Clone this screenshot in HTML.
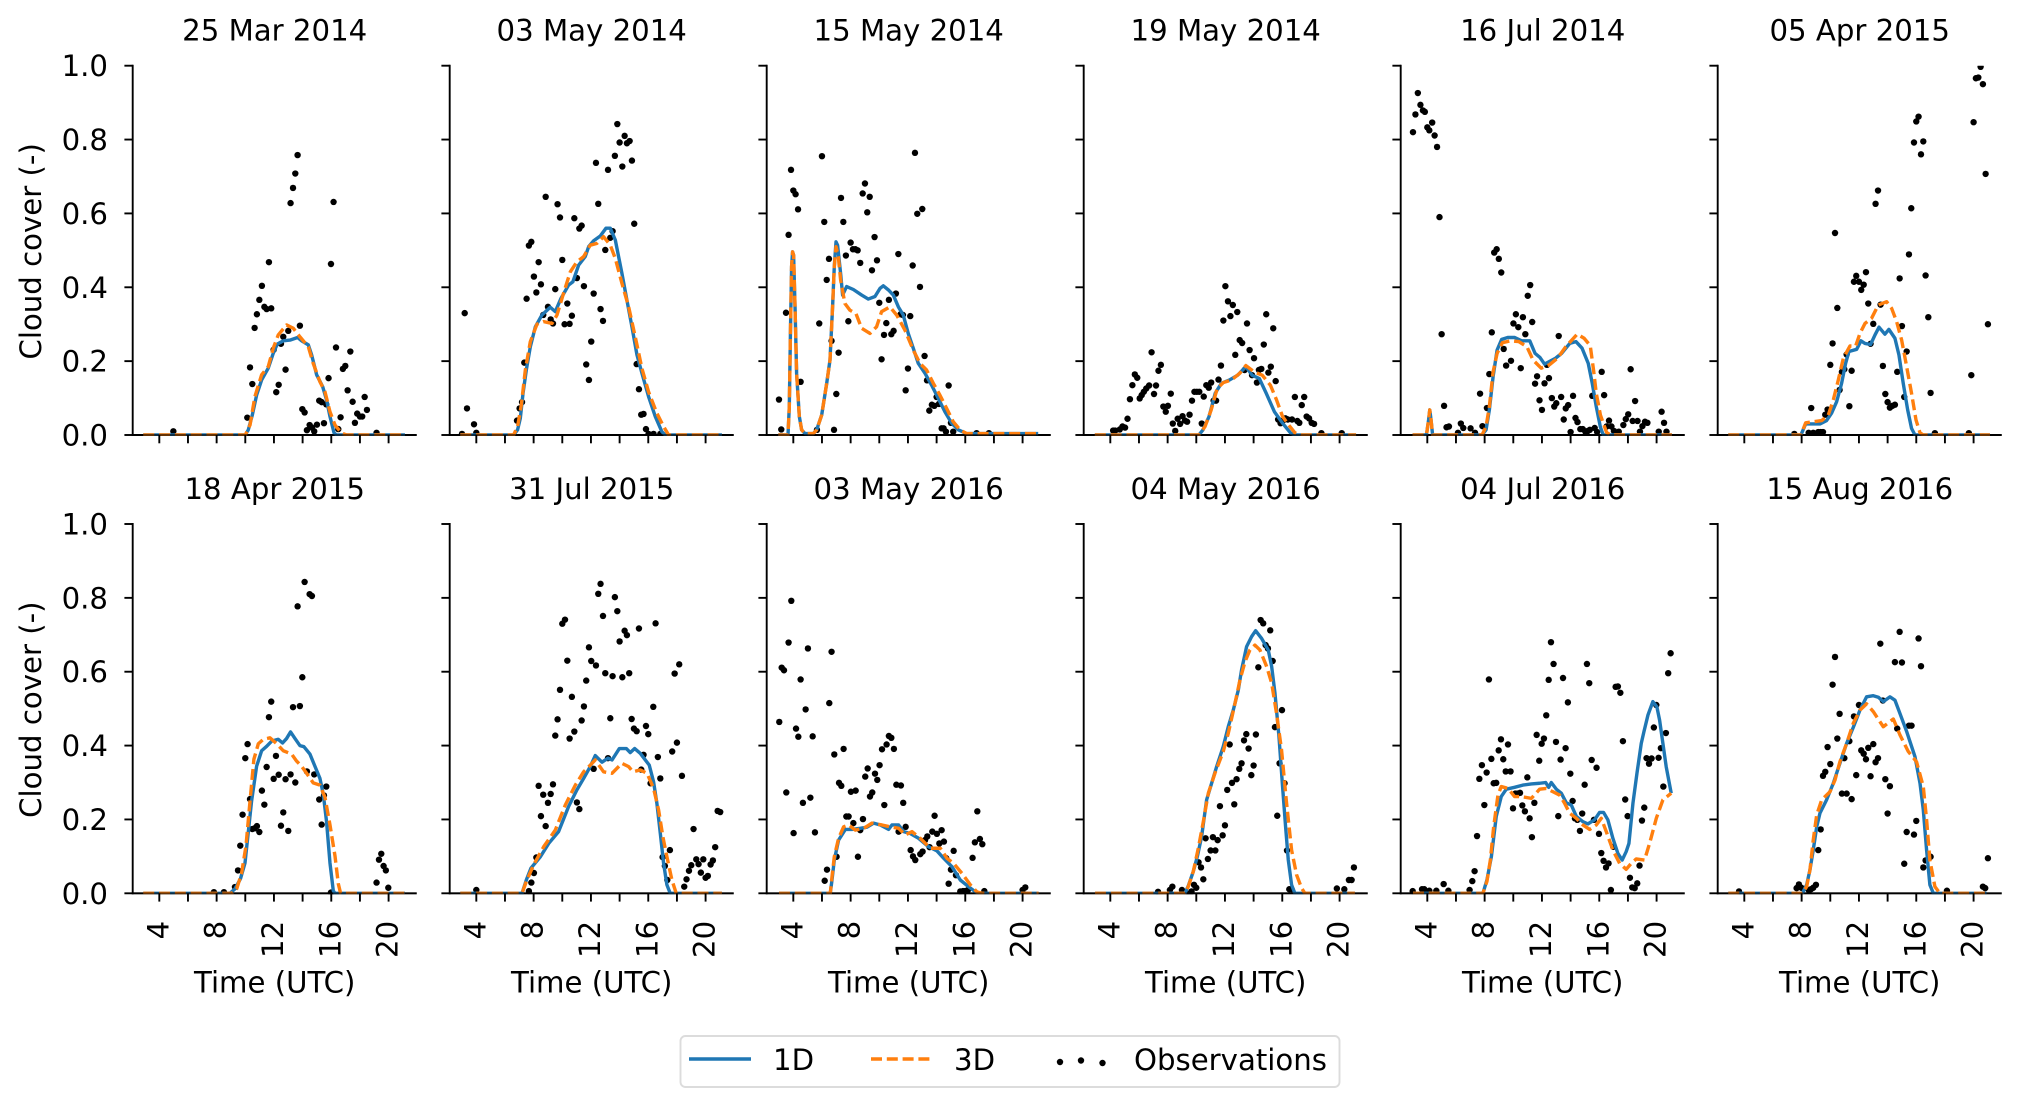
<!DOCTYPE html>
<html lang="en">
<head>
<meta charset="utf-8">
<title>Cloud cover small multiples</title>
<style>
html,body{margin:0;padding:0;background:#fff;}
svg{display:block;}
text{font-family:"DejaVu Sans","Liberation Sans",sans-serif;font-size:29.2px;fill:#000;}
</style>
</head>
<body>
<svg id="chart" xmlns="http://www.w3.org/2000/svg" width="2021" height="1107" viewBox="0 0 2021 1107">
<rect x="0" y="0" width="2021" height="1107" fill="#fff"/>
<defs id="clips"></defs>
<g id="panels"></g>
<g id="legend">
<rect x="680.5" y="1036" width="659" height="51" rx="5" ry="5" fill="#fff" stroke="#dcdcdc" stroke-width="1.9"/>
<g>
<line x1="689" y1="1059" x2="751" y2="1059" stroke="#1f77b4" stroke-width="3.4"/>
<text x="773" y="1070">1D</text>
</g>
<g>
<line x1="871" y1="1059" x2="931" y2="1059" stroke="#ff7f0e" stroke-width="3.4" stroke-dasharray="11 4.8"/>
<text x="954" y="1070">3D</text>
</g>
<g>
<circle cx="1060" cy="1062" r="3.2"/>
<circle cx="1081" cy="1060.5" r="3.2"/>
<circle cx="1102.5" cy="1063" r="3.2"/>
<text x="1134" y="1070">Observations</text>
</g>
</g>
</svg>
<script>
const panelTitles = ["25 Mar 2014","03 May 2014","15 May 2014","19 May 2014","16 Jul 2014","05 Apr 2015","18 Apr 2015","31 Jul 2015","03 May 2016","04 May 2016","04 Jul 2016","15 Aug 2016"];
const xTickHours = [4,6,8,10,12,14,16,18,20];
const xTickLabels = ["4","","8","","12","","16","","20"];
const yTickValues = [0,0.2,0.4,0.6,0.8,1];
const yTickLabels = ["0.0","0.2","0.4","0.6","0.8","1.0"];
const xAxisTitle = "Time (UTC)";
const yAxisTitle = "Cloud cover (-)";

/* 25 Mar 2014 */
const obsHours0 = [4.98,10.14,10.33,10.49,10.65,10.81,10.98,11.16,11.33,11.49,11.65,11.81,11.98,12.16,12.33,12.49,12.65,12.81,13,13.16,13.33,13.49,13.65,13.81,13.98,14.14,14.3,14.49,14.65,14.81,15,15.16,15.33,15.49,15.65,15.81,15.98,16.16,16.33,16.49,16.65,16.81,16.98,17.14,17.33,17.49,17.65,17.81,18,18.16,18.33,18.49,19.16];
const obsCloud0 = [.01,.047,.183,.138,.29,.327,.366,.404,.347,.341,.468,.343,.231,.116,.136,.247,.266,.177,.282,.628,.669,.708,.758,.296,.07,.061,.013,.027,.02,.01,.028,.093,.089,.032,.083,.154,.463,.631,.237,.016,.048,.179,.187,.121,.226,.09,.033,.058,.05,.05,.103,.068,.006];
const hours1D0 = [2.88,10,10.21,10.49,10.79,11.14,11.6,11.95,12.23,12.65,13.12,13.65,13.93,14.4,14.63,14.98,15.4,15.67,15.91,16.19,16.37,21.14];
const cloud1D0 = [0,0,.014,.054,.108,.149,.181,.221,.246,.255,.257,.264,.255,.244,.217,.163,.131,.095,.05,.006,0,0];
const hours3D0 = [2.88,10,10.33,10.67,11.14,11.6,11.95,12.3,12.88,13.35,13.81,14.4,14.74,15.2,15.56,15.91,16.26,16.72,17.07,21.14];
const cloud3D0 = [0,0,.027,.104,.163,.185,.235,.271,.298,.289,.266,.239,.194,.145,.117,.063,.027,.005,0,0];

/* 03 May 2014 */
const obsHours1 = [3,3.19,3.35,3.84,4,6.84,7.02,7.19,7.35,7.51,7.67,7.84,8.02,8.19,8.35,8.51,8.67,8.84,9,9.19,9.35,9.51,9.67,9.84,10,10.16,10.35,10.51,10.67,10.84,11.02,11.19,11.35,11.51,11.67,11.86,12.02,12.19,12.35,12.51,12.67,12.84,13,13.19,13.35,13.51,13.67,13.84,14,14.19,14.35,14.51,14.7,14.86,15.02,15.19,15.35,15.51,15.67,15.84,16.02,16.37,16.84];
const obsCloud1 = [.003,.33,.072,.029,.006,.039,.072,.089,.196,.369,.513,.523,.429,.386,.468,.408,.325,.645,.347,.313,.302,.395,.625,.589,.474,.3,.356,.301,.323,.587,.425,.559,.567,.403,.191,.149,.253,.383,.737,.626,.341,.309,.501,.718,.534,.552,.756,.842,.792,.727,.81,.79,.796,.743,.572,.192,.124,.055,.057,.016,.003,.003,.003];
const hours1D1 = [2.88,6.6,6.88,7.07,7.26,7.49,7.77,8.12,8.58,9.16,9.51,9.91,10.44,10.74,11.14,11.6,11.84,12.19,12.65,13.05,13.35,13.7,14.16,14.51,14.86,15.21,15.56,16.02,16.49,16.95,17.19,21.14];
const cloud1D1 = [0,0,.014,.045,.113,.176,.239,.293,.325,.346,.334,.37,.406,.415,.46,.483,.51,.526,.539,.56,.56,.528,.438,.365,.293,.217,.167,.104,.05,.009,0,0];
const hours3D1 = [2.88,6.6,6.88,7.14,7.42,7.77,8.23,8.7,9.28,9.63,10.09,10.56,11.02,11.49,11.95,12.42,12.88,13.35,13.7,14.16,14.63,15.09,15.56,16.02,16.6,17.07,17.42,21.14];
const cloud3D1 = [0,0,.023,.081,.176,.253,.3,.307,.302,.325,.384,.442,.469,.483,.514,.519,.537,.514,.478,.411,.347,.266,.18,.117,.059,.023,0,0];

/* 15 May 2014 */
const obsHours2 = [3,3.16,3.49,3.67,3.84,4,4.16,4.33,4.51,5.65,5.81,6,6.16,6.33,6.49,6.67,6.84,7,7.16,7.33,7.49,7.67,7.84,8,8.16,8.33,8.49,8.67,8.84,9,9.16,9.33,9.49,9.67,9.84,10,10.16,10.33,10.49,10.67,10.84,11,11.16,11.33,11.49,11.65,11.84,12,12.16,12.33,12.49,12.65,12.84,13,13.16,13.33,13.49,13.67,13.84,14,14.16,14.35,14.49,14.65,14.84,15,15.16,16.79,17.65];
const obsCloud2 = [.096,.015,.331,.542,.718,.662,.652,.611,.144,.014,.302,.755,.577,.42,.477,.255,.014,.111,.223,.642,.577,.486,.308,.521,.503,.503,.5,.466,.654,.681,.603,.645,.446,.536,.473,.358,.205,.271,.303,.366,.273,.282,.383,.49,.327,.325,.121,.18,.322,.459,.764,.599,.401,.612,.214,.148,.066,.082,.079,.103,.084,.018,.018,.009,.134,.033,.009,.005,.005];
const hours1D2 = [2.95,3.63,3.72,3.81,3.88,3.95,4.02,4.12,4.23,4.42,4.58,4.81,5.4,5.63,5.98,6.33,6.56,6.74,6.86,6.98,7.09,7.3,7.44,7.72,8.19,8.77,9.23,9.7,10.05,10.28,10.63,10.98,11.33,11.67,12.02,12.37,12.72,13.19,13.65,14.12,14.58,15.05,15.51,16.09,21.09];
const cloud1D2 = [0,0,.077,.302,.456,.496,.487,.347,.167,.05,.014,.004,.004,.014,.054,.14,.203,.347,.456,.523,.514,.438,.379,.402,.394,.379,.368,.375,.397,.404,.393,.379,.347,.325,.275,.235,.194,.167,.135,.099,.063,.032,.014,.004,.004];
const hours3D2 = [2.95,3.63,3.72,3.81,3.88,3.95,4.02,4.12,4.23,4.42,4.58,4.81,5.4,5.63,5.98,6.33,6.56,6.74,6.86,6.98,7.14,7.3,7.6,7.95,8.37,8.77,9.35,9.81,10.16,10.74,11.21,11.79,12.37,12.84,13.3,13.77,14.23,14.7,15.16,15.63,16.09,21.09];
const cloud3D2 = [0,0,.077,.302,.456,.496,.487,.347,.167,.05,.014,.004,.004,.014,.054,.14,.203,.347,.456,.51,.483,.42,.356,.338,.329,.289,.275,.293,.334,.347,.325,.284,.23,.194,.176,.14,.108,.072,.036,.014,.004,.004];

/* 19 May 2014 */
const obsHours3 = [4.2,4.34,4.66,4.85,5.03,5.2,5.37,5.54,5.71,5.88,6.05,6.19,6.34,6.51,6.71,6.88,7.05,7.19,7.36,7.53,7.7,7.87,8.02,8.22,8.36,8.53,8.7,8.87,9.04,9.21,9.36,9.53,9.7,9.87,10.04,10.21,10.38,10.52,10.7,10.87,11.04,11.21,11.38,11.55,11.72,11.89,12.03,12.21,12.38,12.55,12.72,12.86,13.03,13.2,13.37,13.54,13.72,13.89,14.03,14.23,14.37,14.54,14.71,14.88,15.03,15.2,15.37,15.54,15.71,15.88,16.05,16.22,16.39,16.68,16.88,17.05,17.19,17.36,17.53,17.7,17.87,18.05,18.22,18.73,20.15];
const obsCloud3 = [.012,.012,.015,.023,.02,.044,.097,.135,.164,.155,.099,.108,.117,.126,.134,.224,.111,.134,.174,.19,.077,.063,.079,.112,.031,.011,.044,.03,.051,.039,.036,.055,.093,.117,.117,.117,.031,.104,.135,.128,.142,.093,.093,.15,.188,.31,.403,.362,.322,.352,.217,.333,.257,.249,.176,.302,.23,.162,.208,.142,.176,.179,.245,.327,.169,.185,.289,.146,.042,.032,.039,.045,.042,.042,.103,.038,.033,.081,.103,.05,.045,.033,.03,.005,.005];
const hours1D3 = [2.92,10.18,10.47,10.89,11.32,11.75,12.32,12.89,13.46,13.89,14.4,14.88,15.45,16.02,16.59,16.88,21.15];
const cloud1D3 = [0,0,.014,.05,.113,.14,.149,.162,.185,.162,.153,.113,.063,.032,.005,0,0];
const hours3D3 = [2.92,10.18,10.61,11.04,11.46,11.89,12.46,13.03,13.46,14.03,14.6,15.17,15.6,16.02,16.45,16.88,17.3,21.15];
const cloud3D3 = [0,0,.023,.068,.126,.142,.149,.167,.188,.171,.162,.135,.095,.05,.027,.006,0,0];

/* 16 Jul 2014 */
const obsHours4 = [3,3.17,3.34,3.52,3.69,3.83,4,4.14,4.34,4.51,4.68,4.85,5,5.17,5.34,5.51,6.14,6.34,6.51,7.02,7.33,7.68,7.85,8.16,8.33,8.5,8.67,8.84,8.99,9.16,9.33,9.5,9.84,10.01,10.18,10.35,10.52,10.67,10.84,11.01,11.18,11.32,11.52,11.66,11.83,12,12.18,12.35,12.49,12.69,12.86,13,13.17,13.34,13.52,13.66,13.83,14,14.17,14.34,14.48,14.68,14.85,15.03,15.2,15.34,15.51,15.68,15.85,16.17,16.34,16.51,16.68,16.85,17.02,17.36,17.68,17.85,18.02,18.19,18.33,18.5,18.67,18.84,19.01,19.19,19.36,20.15,20.35,20.52,20.69];
const obsCloud4 = [.82,.868,.926,.894,.879,.875,.833,.825,.846,.811,.78,.59,.273,.079,.021,.023,.006,.031,.019,.018,.006,.112,.024,.073,.165,.278,.494,.503,.477,.44,.233,.188,.201,.302,.327,.292,.181,.319,.273,.377,.406,.306,.139,.159,.094,.068,.14,.19,.154,.1,.077,.086,.268,.103,.042,.072,.081,.008,.106,.046,.035,.016,.016,.009,.011,.014,.106,.019,.008,.171,.108,.023,.039,.023,.011,.009,.027,.043,.056,.178,.038,.092,.038,.009,.024,.036,.033,.009,.063,.033,.009];
const hours1D4 = [2.97,3.94,4.09,4.17,4.26,4.37,7.82,8.1,8.33,8.59,8.87,9.19,9.61,10.1,10.58,11.15,11.52,11.86,12.18,12.52,12.95,13.37,13.94,14.37,14.8,15.23,15.51,15.79,16.08,16.28,21.07];
const cloud1D4 = [0,0,.041,.068,.041,0,0,.014,.068,.158,.23,.259,.264,.264,.255,.255,.221,.21,.192,.199,.208,.221,.248,.253,.235,.194,.14,.077,.021,0,0];
const hours3D4 = [2.97,3.94,4.09,4.17,4.26,4.37,7.82,8.1,8.33,8.59,8.87,9.24,9.81,10.38,10.95,11.38,11.95,12.52,13.09,13.66,14.46,14.94,15.37,15.6,15.79,16.08,16.51,16.79,21.07];
const cloud3D4 = [0,0,.041,.068,.041,0,0,.023,.077,.171,.221,.25,.255,.253,.239,.203,.181,.19,.208,.239,.273,.262,.242,.176,.113,.054,.007,0,0];

/* 05 Apr 2015 */
const obsHours5 = [7.49,8.49,8.67,8.81,9.16,9.33,9.49,9.65,9.81,10,10.16,10.33,10.49,10.65,10.81,10.98,11.14,11.33,11.49,11.65,11.81,12,12.16,12.33,12.49,12.65,12.81,13,13.16,13.33,13.51,13.67,13.84,14,14.16,14.33,14.51,14.67,14.84,15,15.16,15.33,15.49,15.65,15.84,16,16.16,16.33,16.49,16.65,16.84,17,17.3,19.67,19.84,20,20.16,20.33,20.49,20.65,20.84,21];
const obsCloud5 = [.003,.006,.073,.006,.008,.008,.008,.055,.069,.19,.248,.547,.344,.122,.171,.178,.218,.078,.174,.415,.431,.415,.393,.407,.441,.356,.247,.301,.626,.662,.353,.187,.111,.089,.074,.079,.082,.171,.424,.295,.103,.226,.489,.614,.792,.849,.862,.76,.795,.432,.319,.114,.005,.005,.162,.847,.966,.968,.997,.95,.707,.3];
const hours1D5 = [2.88,7.95,8.28,8.81,9.28,9.74,10.09,10.44,10.79,11.07,11.3,11.84,12.14,12.42,12.81,13.12,13.4,13.81,14.09,14.51,14.79,15.09,15.4,15.67,15.91,21.14];
const cloud1D5 = [0,0,.03,.03,.03,.039,.059,.09,.14,.194,.226,.232,.255,.248,.245,.271,.292,.273,.286,.262,.217,.14,.068,.018,0,0];
const hours3D5 = [2.88,7.95,8.28,8.81,9.4,9.86,10.21,10.56,10.91,11.37,11.77,12.07,12.42,12.88,13.35,13.93,14.28,14.63,14.98,15.33,15.67,15.98,16.26,16.49,21.14];
const cloud3D5 = [0,0,.033,.036,.039,.054,.095,.149,.208,.241,.241,.275,.302,.316,.352,.361,.343,.307,.257,.185,.113,.041,.006,0,0];

/* 18 Apr 2015 */
const obsHours6 = [7.81,8.51,9.28,9.49,9.65,9.81,10,10.16,10.33,10.49,10.65,10.81,10.98,11.16,11.33,11.49,11.65,11.81,11.98,12.14,12.33,12.49,12.65,12.81,13,13.16,13.33,13.49,13.65,13.81,13.98,14.14,14.3,14.49,14.65,14.81,15.16,15.33,15.49,15.65,15.98,19.16,19.33,19.49,19.65,19.81,19.98];
const obsCloud6 = [.003,.003,.017,.062,.129,.213,.366,.404,.255,.174,.176,.182,.166,.278,.24,.342,.477,.519,.31,.372,.321,.183,.219,.309,.169,.322,.504,.3,.777,.507,.585,.843,.33,.81,.805,.322,.254,.186,.265,.289,.002,.029,.091,.107,.074,.062,.015];
const hours1D6 = [2.88,8.93,9.28,9.67,9.98,10.21,10.44,10.79,11.14,11.49,11.84,12.3,12.6,12.88,13.16,13.47,13.81,14.09,14.51,14.86,15.21,15.44,15.67,15.91,16.14,16.26,21.14];
const cloud1D6 = [0,0,.012,.04,.082,.166,.25,.344,.386,.398,.412,.417,.407,.419,.437,.419,.4,.397,.377,.344,.311,.269,.194,.082,.007,0,0];
const hours3D6 = [2.88,9.05,9.4,9.74,10.05,10.33,10.6,10.91,11.26,11.72,12.19,12.65,13.23,13.58,13.93,14.28,14.74,15.21,15.56,15.91,16.26,16.49,16.65,21.14];
const cloud3D6 = [0,0,.012,.054,.129,.25,.363,.405,.417,.421,.405,.386,.377,.358,.344,.325,.299,.293,.26,.185,.101,.026,0,0];

/* 31 Jul 2015 */
const obsHours7 = [4,7.67,7.84,8.02,8.19,8.35,8.51,8.67,8.84,9,9.19,9.35,9.51,9.67,9.84,10,10.19,10.35,10.51,10.67,10.84,11.02,11.19,11.35,11.51,11.67,11.86,12.02,12.19,12.35,12.51,12.67,12.84,13,13.19,13.35,13.51,13.67,13.84,14,14.19,14.35,14.51,14.67,14.84,15,15.19,15.35,15.51,15.67,15.84,16,16.16,16.35,16.51,16.67,16.84,17,17.16,17.33,17.51,17.67,17.84,18,18.16,18.35,18.51,18.67,18.84,19,19.16,19.35,19.51,19.67,19.84,20,20.16,20.35,20.51,20.67,20.84,21.02];
const obsCloud7 = [.009,.006,.029,.055,.097,.291,.209,.267,.182,.245,.269,.295,.427,.471,.551,.73,.741,.63,.419,.532,.438,.246,.228,.468,.506,.576,.666,.629,.337,.617,.811,.838,.751,.596,.366,.474,.588,.802,.764,.682,.585,.711,.699,.596,.472,.446,.439,.717,.335,.375,.453,.431,.298,.505,.731,.369,.311,.098,.074,.036,.117,.384,.595,.408,.62,.318,.018,.038,.061,.076,.174,.092,.079,.056,.092,.042,.047,.078,.089,.125,.223,.22];
const hours1D7 = [2.88,7.19,7.49,7.81,8.47,9.05,9.74,10.44,11.02,11.49,11.95,12.3,12.77,13.19,13.47,13.98,14.47,14.74,15.05,15.44,16.07,16.37,16.6,16.84,17.07,17.3,17.53,21.14];
const cloud1D7 = [0,0,.036,.068,.099,.135,.167,.235,.28,.311,.343,.373,.355,.366,.361,.392,.392,.381,.392,.379,.347,.302,.244,.162,.081,.023,0,0];
const hours3D7 = [2.88,7.19,7.49,8,8.7,9.51,10.21,10.91,11.49,11.95,12.3,12.88,13.47,14.16,14.63,14.93,15.44,15.91,16.37,16.72,17.02,17.3,17.65,17.95,21.14];
const cloud3D7 = [0,0,.032,.077,.126,.171,.239,.293,.329,.347,.361,.329,.325,.352,.343,.329,.334,.325,.284,.226,.153,.099,.036,0,0];

/* 03 May 2016 */
const obsHours8 = [3.02,3.19,3.35,3.51,3.67,3.86,4.02,4.19,4.35,4.51,4.67,4.86,5.02,5.19,5.35,5.51,6.19,6.35,6.51,6.67,6.86,7.02,7.19,7.35,7.51,7.7,7.86,8.02,8.19,8.35,8.51,8.67,8.86,9.02,9.19,9.35,9.51,9.7,9.86,10.02,10.19,10.35,10.51,10.67,10.84,11.02,11.19,11.35,11.51,11.67,11.84,12.19,12.35,12.51,12.86,13.02,13.19,13.35,13.51,13.7,13.86,14.02,14.19,14.35,14.51,14.67,14.84,15,15.19,15.35,15.65,15.84,16,16.19,16.51,16.67,16.84,17.02,17.19,17.33,20,20.19];
const obsCloud8 = [.464,.611,.604,.273,.679,.792,.163,.446,.424,.579,.245,.498,.663,.259,.425,.165,.034,.064,.515,.654,.376,.099,.299,.291,.391,.208,.208,.275,.19,.278,.099,.171,.201,.316,.338,.262,.273,.324,.307,.347,.39,.239,.403,.426,.421,.391,.294,.167,.292,.245,.18,.117,.1,.09,.106,.113,.144,.154,.125,.167,.21,.161,.135,.171,.14,.095,.026,.064,.115,.049,.005,.006,.006,.009,.096,.138,.222,.147,.133,.006,.009,.016];
const hours1D8 = [3,6.58,6.7,6.86,7.16,7.63,8.09,8.67,9.14,9.6,10.07,10.65,10.88,11.35,11.7,12.16,12.74,13.44,14.02,14.49,15.07,15.65,16.23,16.7,17.05,21.12];
const cloud1D8 = [0,0,.036,.09,.144,.173,.173,.176,.179,.19,.185,.173,.185,.185,.167,.162,.149,.126,.115,.095,.072,.036,.018,.004,0,0];
const hours3D8 = [3,6.58,6.7,6.86,7.16,7.51,7.86,8.33,8.91,9.49,10.19,10.77,11.35,11.81,12.28,12.86,13.56,14.26,14.72,15.19,15.77,16.35,16.81,17.16,21.12];
const cloud3D8 = [0,0,.045,.099,.149,.18,.185,.171,.176,.19,.185,.18,.176,.158,.167,.149,.122,.122,.095,.081,.054,.023,.004,0,0];

/* 04 May 2016 */
const obsHours9 = [7.33,8.16,8.33,9,9.33,9.67,9.84,10,10.16,10.33,10.49,10.65,10.81,11,11.16,11.33,11.49,11.65,11.84,12,12.16,12.33,12.49,12.65,12.81,13,13.16,13.33,13.49,13.65,13.84,14,14.16,14.33,14.49,14.67,14.84,15,15.16,15.33,15.49,15.65,15.81,15.98,16.16,16.33,16.49,16.65,19.81,20.33,20.65,20.84,21];
const obsCloud9 = [.004,.009,.018,.009,0,.005,.023,.015,.084,.07,.038,.149,.093,.116,.152,.116,.144,.236,.157,.184,.28,.403,.299,.241,.309,.337,.352,.414,.431,.392,.32,.346,.43,.612,.74,.731,.672,.663,.712,.629,.45,.21,.352,.496,.298,.116,.011,.011,.013,.011,.036,.036,.07];
const hours1D9 = [2.93,9.21,9.44,9.79,10.07,10.37,10.72,11.07,11.42,11.88,12.23,12.58,12.93,13.16,13.51,13.86,14.14,14.56,15.02,15.26,15.49,15.77,16.02,16.23,16.42,16.65,16.88,21.07];
const cloud1D9 = [0,0,.02,.059,.099,.153,.253,.298,.343,.397,.451,.496,.55,.605,.668,.695,.711,.69,.659,.614,.542,.424,.289,.181,.09,.023,0,0];
const hours3D9 = [2.93,9.21,9.44,9.79,10.14,10.49,10.84,11.3,11.88,12.23,12.7,13.05,13.4,13.74,14.09,14.44,14.91,15.26,15.6,15.95,16.3,16.65,17,17.35,17.58,21.07];
const cloud3D9 = [0,0,.018,.059,.122,.194,.271,.325,.384,.433,.514,.578,.627,.659,.672,.659,.614,.569,.487,.388,.244,.117,.05,.014,0,0];

/* 04 Jul 2016 */
const obsHours10 = [2.98,3.63,3.79,4.14,4.63,5.14,5.47,6.95,7.14,7.3,7.47,7.63,7.81,7.98,8.14,8.3,8.47,8.63,8.81,8.98,9.14,9.3,9.47,9.63,9.81,9.98,10.14,10.3,10.47,10.63,10.81,10.98,11.14,11.3,11.47,11.63,11.81,11.98,12.14,12.3,12.47,12.63,12.81,12.98,13.14,13.3,13.47,13.65,13.81,13.98,14.14,14.3,14.47,14.65,14.81,14.98,15.14,15.3,15.47,15.63,15.81,15.98,16.14,16.3,16.47,16.65,16.81,16.98,17.14,17.3,17.47,17.65,17.81,17.98,18.14,18.3,18.47,18.65,18.81,18.98,19.14,19.3,19.47,19.65,19.81,19.98,20.14,20.3,20.47,20.65,20.81,20.98];
const obsCloud10 = [.006,.011,.011,.007,.007,.025,.007,.009,.033,.06,.155,.31,.347,.239,.327,.579,.364,.298,.299,.387,.417,.363,.33,.403,.33,.23,.27,.27,.272,.238,.222,.314,.203,.152,.245,.429,.359,.405,.419,.482,.578,.68,.621,.41,.209,.362,.583,.393,.517,.324,.25,.203,.199,.169,.216,.294,.621,.569,.361,.199,.34,.161,.109,.088,.07,.081,.009,.126,.559,.56,.543,.412,.254,.209,.042,.016,.014,.027,.075,.197,.232,.366,.351,.365,.449,.51,.367,.393,.289,.434,.596,.65];
const hours1D10 = [3,7.88,8.16,8.47,8.81,9.16,9.51,10.09,10.67,11.26,11.84,12.26,12.47,12.65,13,13.35,13.7,14.05,14.4,14.86,15.21,15.67,16.02,16.3,16.6,16.95,17.3,17.6,17.88,18.07,18.35,18.63,18.93,19.12,19.4,19.74,20.02,20.21,20.44,20.67,21.02];
const cloud1D10 = [0,0,.036,.099,.208,.262,.282,.287,.293,.296,.298,.3,.287,.3,.282,.271,.245,.239,.208,.194,.188,.199,.219,.219,.199,.149,.108,.09,.113,.135,.244,.325,.406,.438,.483,.519,.505,.469,.406,.343,.271];
const hours3D10 = [3,7.88,8.16,8.4,8.63,8.93,9.16,9.63,10.09,10.56,11.26,11.84,12.3,12.77,13.23,13.58,13.93,14.4,14.86,15.33,15.79,16.14,16.49,16.95,17.42,17.88,18.23,18.58,19.16,19.51,19.98,20.44,21.02];
const cloud3D10 = [0,0,.032,.09,.18,.266,.289,.284,.262,.262,.257,.282,.284,.275,.266,.244,.217,.203,.185,.173,.185,.203,.167,.117,.081,.065,.081,.093,.09,.135,.203,.253,.271];

/* 15 Aug 2016 */
const obsHours11 = [3.63,7.65,7.81,7.98,8.49,8.65,8.81,9,9.16,9.33,9.49,9.65,9.81,10,10.16,10.33,10.49,10.65,10.81,10.98,11.14,11.33,11.49,11.65,11.81,12,12.16,12.33,12.49,12.65,12.81,13,13.16,13.33,13.49,13.67,13.84,14,14.16,14.51,14.67,14.84,15,15.16,15.33,15.49,15.67,15.84,16,16.16,16.33,16.49,16.65,17,18.14,20.65,20.81,21];
const obsCloud11 = [.005,.014,.024,.015,.009,.011,.015,.023,.117,.173,.318,.329,.396,.35,.565,.64,.419,.486,.27,.366,.27,.412,.255,.479,.32,.51,.387,.378,.363,.394,.317,.404,.355,.366,.676,.522,.309,.216,.29,.626,.446,.708,.625,.08,.166,.454,.454,.159,.196,.69,.615,.07,.089,.099,.007,.018,.014,.095];
const hours1D11 = [2.88,8.05,8.35,8.58,8.81,9.05,9.28,9.74,10.21,10.67,11.14,11.6,12.07,12.53,13,13.35,13.7,14.16,14.51,14.86,15.33,15.91,16.26,16.49,16.72,16.95,17.19,20.91];
const cloud1D11 = [0,0,.023,.063,.117,.18,.217,.253,.298,.352,.406,.449,.496,.532,.535,.531,.519,.532,.523,.487,.438,.37,.298,.226,.117,.023,0,0];
const hours3D11 = [2.88,8.05,8.35,8.58,8.81,9.05,9.4,9.98,10.33,10.67,11.14,11.6,12.07,12.53,13,13.7,14.4,14.86,15.44,16.02,16.49,16.72,16.95,17.3,17.65,20.91];
const cloud3D11 = [0,0,.018,.063,.144,.212,.253,.275,.307,.356,.406,.46,.496,.513,.492,.451,.472,.429,.384,.356,.289,.199,.09,.018,0,0];

const allObsHours = [obsHours0,obsHours1,obsHours2,obsHours3,obsHours4,obsHours5,obsHours6,obsHours7,obsHours8,obsHours9,obsHours10,obsHours11];
const allObsCloud = [obsCloud0,obsCloud1,obsCloud2,obsCloud3,obsCloud4,obsCloud5,obsCloud6,obsCloud7,obsCloud8,obsCloud9,obsCloud10,obsCloud11];
const allHours1D = [hours1D0,hours1D1,hours1D2,hours1D3,hours1D4,hours1D5,hours1D6,hours1D7,hours1D8,hours1D9,hours1D10,hours1D11];
const allCloud1D = [cloud1D0,cloud1D1,cloud1D2,cloud1D3,cloud1D4,cloud1D5,cloud1D6,cloud1D7,cloud1D8,cloud1D9,cloud1D10,cloud1D11];
const allHours3D = [hours3D0,hours3D1,hours3D2,hours3D3,hours3D4,hours3D5,hours3D6,hours3D7,hours3D8,hours3D9,hours3D10,hours3D11];
const allCloud3D = [cloud3D0,cloud3D1,cloud3D2,cloud3D3,cloud3D4,cloud3D5,cloud3D6,cloud3D7,cloud3D8,cloud3D9,cloud3D10,cloud3D11];

const SVGNS = "http://www.w3.org/2000/svg";
const PANEL_LEFT = 132.7, PANEL_STEP_X = 317, PANEL_W = 284;
const PANEL_TOP = 65.7, PANEL_STEP_Y = 458.3, PANEL_H = 369.3;
const HOUR_MIN = 2.143, PX_PER_HOUR = 14.33;
const TICK_LEN = 8.3, SPINE_W = 1.9;

function xPos(col, hour) { return PANEL_LEFT + col * PANEL_STEP_X + (hour - HOUR_MIN) * PX_PER_HOUR; }
function yPos(row, value) { return PANEL_TOP + row * PANEL_STEP_Y + PANEL_H * (1 - value); }
function make(tag, parent) { const el = document.createElementNS(SVGNS, tag); parent.appendChild(el); return el; }
function pathOf(col, row, hours, values) {
  return hours.map(function (h, i) { return (i ? "L" : "M") + xPos(col, h).toFixed(2) + " " + yPos(row, values[i]).toFixed(2); }).join(" ");
}

const root = document.getElementById("panels");
const defs = document.getElementById("clips");

panelTitles.forEach(function (title, p) {
  const col = p % 6, row = Math.floor(p / 6);
  const x0 = xPos(col, HOUR_MIN), y0 = yPos(row, 0), yTop = yPos(row, 1);

  const clip = make("clipPath", defs);
  clip.setAttribute("id", "clip" + p);
  const clipRect = make("rect", clip);
  clipRect.setAttribute("x", x0);
  clipRect.setAttribute("y", yTop);
  clipRect.setAttribute("width", PANEL_W);
  clipRect.setAttribute("height", PANEL_H + 1);

  const panel = make("g", root);
  
  

  const titleEl = make("text", panel);
  
  
  titleEl.setAttribute("x", x0 + PANEL_W / 2);
  titleEl.setAttribute("y", yTop - 25);
  titleEl.setAttribute("text-anchor", "middle");
  titleEl.textContent = title;

  const bottomSpine = make("line", panel);
  
  
  bottomSpine.setAttribute("x1", x0 - SPINE_W / 2);
  bottomSpine.setAttribute("x2", x0 + PANEL_W);
  bottomSpine.setAttribute("y1", y0);
  bottomSpine.setAttribute("y2", y0);
  bottomSpine.setAttribute("stroke", "#000");
  bottomSpine.setAttribute("stroke-width", SPINE_W);

  const marks = make("g", panel);
  
  
  marks.setAttribute("clip-path", "url(#clip" + p + ")");

  allObsHours[p].forEach(function (h, i) {
    const dot = make("circle", marks);
    
    
    dot.setAttribute("cx", xPos(col, h).toFixed(2));
    dot.setAttribute("cy", yPos(row, allObsCloud[p][i]).toFixed(2));
    dot.setAttribute("r", "3.2");
    dot.setAttribute("fill", "#000");
  });

  const line1D = make("path", marks);
  
  
  line1D.setAttribute("d", pathOf(col, row, allHours1D[p], allCloud1D[p]));
  line1D.setAttribute("fill", "none");
  line1D.setAttribute("stroke", "#1f77b4");
  line1D.setAttribute("stroke-width", "3.4");
  line1D.setAttribute("stroke-linejoin", "round");

  const line3D = make("path", marks);
  
  
  line3D.setAttribute("d", pathOf(col, row, allHours3D[p], allCloud3D[p]));
  line3D.setAttribute("fill", "none");
  line3D.setAttribute("stroke", "#ff7f0e");
  line3D.setAttribute("stroke-width", "3.4");
  line3D.setAttribute("stroke-dasharray", "11 4.8");
  line3D.setAttribute("stroke-linejoin", "round");

  const spineOverlay = make("line", panel);
  
  
  spineOverlay.setAttribute("x1", x0);
  spineOverlay.setAttribute("x2", x0 + PANEL_W);
  spineOverlay.setAttribute("y1", y0);
  spineOverlay.setAttribute("y2", y0);
  spineOverlay.setAttribute("stroke", "#000");
  spineOverlay.setAttribute("stroke-opacity", "0.6");
  spineOverlay.setAttribute("stroke-width", SPINE_W);

  const leftSpine = make("line", panel);
  
  
  leftSpine.setAttribute("x1", x0);
  leftSpine.setAttribute("x2", x0);
  leftSpine.setAttribute("y1", yTop - SPINE_W / 2);
  leftSpine.setAttribute("y2", y0 + SPINE_W / 2);
  leftSpine.setAttribute("stroke", "#000");
  leftSpine.setAttribute("stroke-width", SPINE_W);

  yTickValues.forEach(function (v, i) {
    const y = yPos(row, v);
    const tick = make("line", panel);
    
    
    tick.setAttribute("x1", x0 - TICK_LEN);
    tick.setAttribute("x2", x0);
    tick.setAttribute("y1", y);
    tick.setAttribute("y2", y);
    tick.setAttribute("stroke", "#000");
    tick.setAttribute("stroke-width", SPINE_W);
    if (col === 0) {
      const lab = make("text", panel);
      
      
      lab.setAttribute("x", x0 - 24.7);
      lab.setAttribute("y", y + 10.5);
      lab.setAttribute("text-anchor", "end");
      lab.textContent = yTickLabels[i];
    }
  });

  xTickHours.forEach(function (h, i) {
    const x = xPos(col, h);
    const tick = make("line", panel);
    
    
    tick.setAttribute("x1", x);
    tick.setAttribute("x2", x);
    tick.setAttribute("y1", y0);
    tick.setAttribute("y2", y0 + TICK_LEN);
    tick.setAttribute("stroke", "#000");
    tick.setAttribute("stroke-width", SPINE_W);
    if (row === 1 && xTickLabels[i]) {
      const lab = make("text", panel);
      
      
      lab.setAttribute("text-anchor", "end");
      lab.setAttribute("transform", "translate(" + (x + 9).toFixed(2) + " " + (y0 + 27.5).toFixed(2) + ") rotate(-90)");
      lab.textContent = xTickLabels[i];
    }
  });

  if (col === 0) {
    const yTitle = make("text", panel);
    
    
    yTitle.setAttribute("text-anchor", "middle");
    yTitle.setAttribute("transform", "translate(41 " + (yTop + PANEL_H / 2 + 1).toFixed(2) + ") rotate(-90)");
    yTitle.textContent = yAxisTitle;
  }
  if (row === 1) {
    const xTitle = make("text", panel);
    
    
    xTitle.setAttribute("x", x0 + PANEL_W / 2);
    xTitle.setAttribute("y", y0 + 99);
    xTitle.setAttribute("text-anchor", "middle");
    xTitle.textContent = xAxisTitle;
  }
});
</script>
</body>
</html>
